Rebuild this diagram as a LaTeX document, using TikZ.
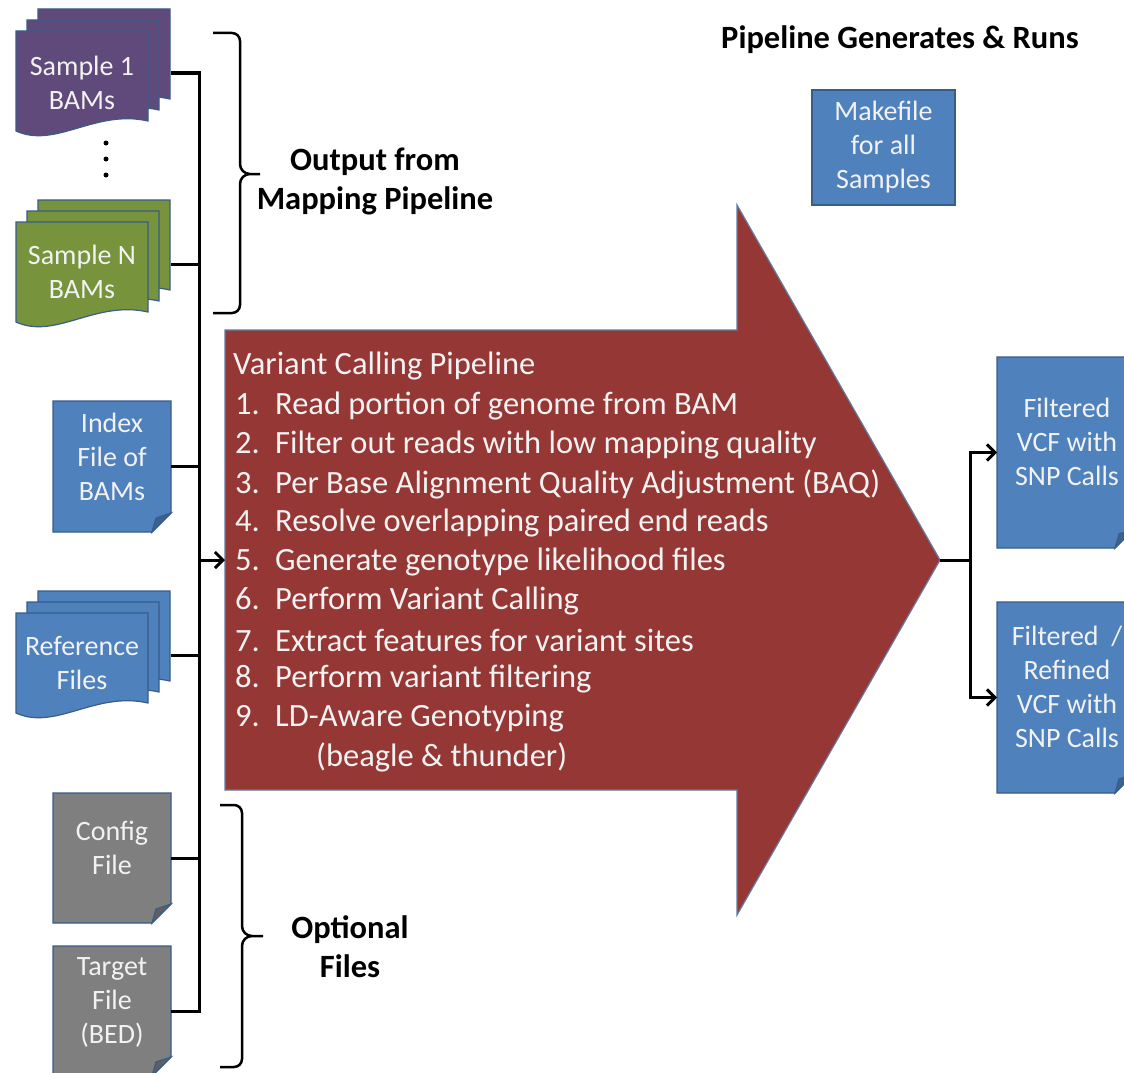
\documentclass[tikz,border=0pt]{standalone}
\usepackage{fontspec}
\setmainfont{Carlito}
\usetikzlibrary{arrows.meta, calc}
\definecolor{samplepurple}{HTML}{604A7B}
\definecolor{samplegreen}{HTML}{77933C}
\definecolor{fileblue}{HTML}{4F81BD}
\definecolor{filegray}{HTML}{7F7F7F}
\definecolor{pipered}{HTML}{953735}
\definecolor{edgeblue}{HTML}{385D8A}
\definecolor{paletext}{HTML}{F2F2F2}

% one page with a wavy lower edge: x1, y1, x2, y2, colour
\newcommand{\wavepage}[5]{%
  \filldraw[fill=#5, draw=edgeblue, line width=1.2pt]
    (#1,#2) -- (#3,#2) -- (#3,{(#4)-10})
    .. controls ({(#1)+0.6*((#3)-(#1))},{(#4)-22}) and ({(#1)+0.3*((#3)-(#1))},{(#4)+18}) .. (#1,#4) -- cycle;}
% three pages: left, top of front page, colour
\newcommand{\pagestack}[3]{%
  \foreach \d in {2,1,0}
    \wavepage{#1+11*\d}{#2-11*\d}{#1+132+11*\d}{#2+100-11*\d}{#3};}
% page with folded corner round a node
\newcommand{\foldpage}[2]{%
  \filldraw[fill=#2, draw=edgeblue, line width=1.2pt] (#1.north west) -- (#1.north east)
    -- ($(#1.south east)+(0,-19)$) -- ($(#1.south east)+(-19,0)$) -- (#1.south west) -- cycle;
  \filldraw[fill=#2!75!black, draw=edgeblue, line width=1.2pt] ($(#1.south east)+(0,-19)$)
    -- ($(#1.south east)+(-15,-14)$) -- ($(#1.south east)+(-19,0)$) -- cycle;}

\begin{document}
\begin{tikzpicture}[x=1pt, y=-1pt,
  docbox/.style={inner sep=0pt, outer sep=0pt},
  doclabel/.style={text=paletext, align=center, inner sep=0pt, font=\fontsize{28}{34}\selectfont},
  heading/.style={align=center, inner sep=0pt, font=\fontsize{32.5}{39}\selectfont\bfseries},
  pipetext/.style={text=paletext, anchor=west, inner sep=0pt, font=\fontsize{32.5}{39}\selectfont},
  conn/.style={line width=3pt},
  brace/.style={line width=2.5pt},
  tip/.style={-{Straight Barb[length=8pt, width=16pt]}}]
  \useasboundingbox (0,0) rectangle (1124,1073);
  \clip (0,0) rectangle (1124,1073);
  \fill[white] (0,0) rectangle (1124,1073);

  % inputs on the left
  \pagestack{16}{31}{samplepurple}
  \node[docbox, minimum width=155pt, minimum height=128pt] (s1) at (93.5,73) {};
  \node[doclabel] (s1txt) at (82,83) {Sample 1\\BAMs};
  \foreach \i in {0,1,2}
    \fill (106,143+16*\i) circle (2.5);
  \pagestack{16}{222}{samplegreen}
  \node[docbox, minimum width=155pt, minimum height=128pt] (sN) at (93.5,264) {};
  \node[doclabel] (sNtxt) at (82,272) {Sample N\\BAMs};

  \node[docbox, minimum width=118pt, minimum height=131pt] (idx) at (112,466.5) {};
  \foldpage{idx}{fileblue}
  \node[doclabel] (idxtxt) at (112,457) {Index\\File of\\BAMs};

  \pagestack{16}{613}{fileblue}
  \node[docbox, minimum width=155pt, minimum height=128pt] (ref) at (93.5,655) {};
  \node[doclabel] (reftxt) at (82,663) {Reference\\Files};

  \node[docbox, minimum width=118pt, minimum height=130pt] (cfg) at (112,858) {};
  \foldpage{cfg}{filegray}
  \node[doclabel] (cfgtxt) at (112,848) {Config\\File};

  \node[docbox, minimum width=118pt, minimum height=130pt] (tgt) at (112,1011) {};
  \foldpage{tgt}{filegray}
  \node[doclabel] (tgttxt) at (112,1002) {Target\\File\\(BED)};

  % braces
  \draw[brace] (213,33) -- (232,33) to[out=0,in=90] (240,41) -- (240,164)
    to[out=-90,in=180] (250,174) -- (260,174)
    (250,174) to[out=180,in=90] (240,184) -- (240,305) to[out=-90,in=0] (232,313) -- (213,313);
  \node[heading] (mapout) at (375,181) {Output from\\Mapping Pipeline};
  \draw[brace] (220,805) -- (234,805) to[out=0,in=90] (242,813) -- (242,926)
    to[out=-90,in=180] (252,936) -- (263,936)
    (252,936) to[out=180,in=90] (242,946) -- (242,1059) to[out=-90,in=0] (234,1067) -- (220,1067);
  \node[heading] (optfiles) at (350,947) {Optional\\Files};

  % the pipeline arrow
  \filldraw[fill=pipered, draw=edgeblue!80, line width=1.2pt] (225,330) -- (737,330) -- (737,205)
    -- (940,560) -- (737,915) -- (737,790) -- (225,790) -- cycle;
  \coordinate (vcp in) at (225,560);
  \coordinate (vcp tip) at (940,560);
  \node[pipetext] (vcptitle) at (233,366) {Variant Calling Pipeline};
  \foreach \t [count=\i] in {Read portion of genome from BAM,
      Filter out reads with low mapping quality,
      Per Base Alignment Quality Adjustment (BAQ),
      Resolve overlapping paired end reads,
      Generate genotype likelihood files,
      Perform Variant Calling,
      Extract features for variant sites,
      Perform variant filtering,
      LD-Aware Genotyping}
    \node[pipetext] (step\i) at (235,367+39*\i) {\makebox[40pt][l]{\i.}\t};
  \node[pipetext] (step9b) at (316,757) {(beagle \& thunder)};

  % bus into the arrow
  \coordinate (bus) at (199,0);
  \draw[conn] (s1.east) -| (bus |- tgt.east) -- (tgt.east);
  \foreach \n in {sN,idx,ref,cfg}
    \draw[conn] (\n.east) -- (\n.east -| bus);
  \draw[conn, tip] (bus |- vcp in) -- (vcp in);

  % right side
  \node[heading] (genruns) at (900,40) {Pipeline Generates \& Runs};
  \node[docbox, fill=fileblue, draw=edgeblue, line width=1.2pt, minimum width=143pt,
    minimum height=115pt, text=paletext, align=center, font=\fontsize{28}{34}\selectfont]
    (make) at (883.5,147.5) {Makefile\\for all\\Samples};

  \node[docbox, minimum width=137pt, minimum height=191pt] (out1) at (1065.5,452.5) {};
  \foldpage{out1}{fileblue}
  \node[doclabel] (out1txt) at (1067,442) {Filtered\\VCF with\\SNP Calls};
  \node[docbox, minimum width=137pt, minimum height=191pt] (out2) at (1065.5,697.5) {};
  \foldpage{out2}{fileblue}
  \node[doclabel] (out2txt) at (1067,687) {Filtered\ \ /\\Refined\\VCF with\\SNP Calls};

  \coordinate (split) at (970,560);
  \draw[conn] (vcp tip) -- (split);
  \draw[conn, tip] (split) |- (out1.west);
  \draw[conn, tip] (split) |- (out2.west);
\end{tikzpicture}
\end{document}
